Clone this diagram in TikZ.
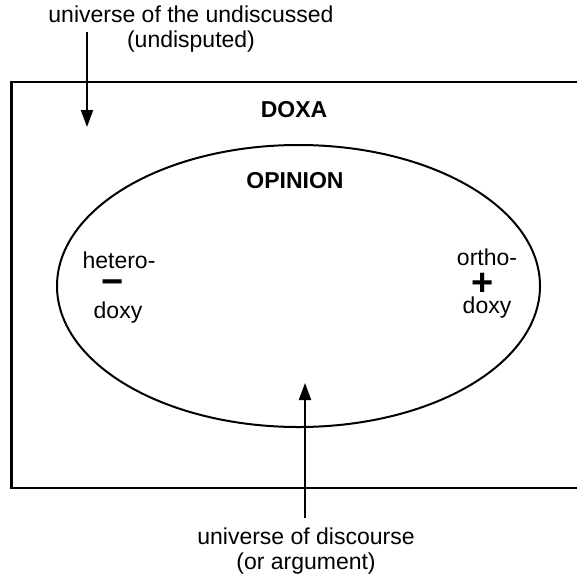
\documentclass[tikz,border=0pt]{standalone}
\usepackage{fontspec}
\setmainfont{Liberation Sans}
\usetikzlibrary{arrows.meta}

\tikzset{
  txt/.style={font=\fontsize{23}{25}\selectfont, inner sep=0pt, align=center},
  head/.style={txt, font=\fontsize{23}{25}\selectfont\bfseries},
  sign/.style={inner sep=0pt, font=\fontsize{38}{38}\selectfont\bfseries},
  pointer/.style={line width=2pt, -{Triangle[length=17pt,width=12pt]}}
}

\begin{document}
\begin{tikzpicture}[x=1pt, y=-1pt]
  \useasboundingbox (0,0) rectangle (577,576);
% doxa box, open at the right
  \draw [line width=2.4pt] (577,82) -- (11.5,82) -- (11.5,488) -- (577,488);
% opinion
  \draw [line width=2pt] (298.5,286) ellipse [x radius=241.5, y radius=141];

  \node [head, anchor=base] (doxa) at (294,117) {DOXA};
  \node [head, anchor=base] (opinion) at (295,188) {OPINION};

  \node [txt, anchor=base] (hetero) at (119,268) {hetero-};
  \node [sign] (minus) at (113,287) {\char"2212};
  \node [txt, anchor=base] (hdoxy) at (118,318) {doxy};

  \node [txt, anchor=base] (ortho) at (487,265) {ortho-};
  \node [sign] (plus) at (483,284) {+};
  \node [txt, anchor=base] (odoxy) at (487,313) {doxy};

  \node [txt, anchor=base] (undiscussed) at (191,47) {universe of the undiscussed\\(undisputed)};
  \node [txt, anchor=base] (discourse) at (306,569) {universe of discourse\\(or argument)};

  \coordinate (undiscussed-tail) at (87,32);
  \coordinate (undiscussed-tip) at (87,127);
  \coordinate (discourse-tail) at (305,518);
  \coordinate (discourse-tip) at (305,383);
  \draw [pointer] (undiscussed-tail) -- (undiscussed-tip);
  \draw [pointer] (discourse-tail) -- (discourse-tip);
\end{tikzpicture}
\end{document}
